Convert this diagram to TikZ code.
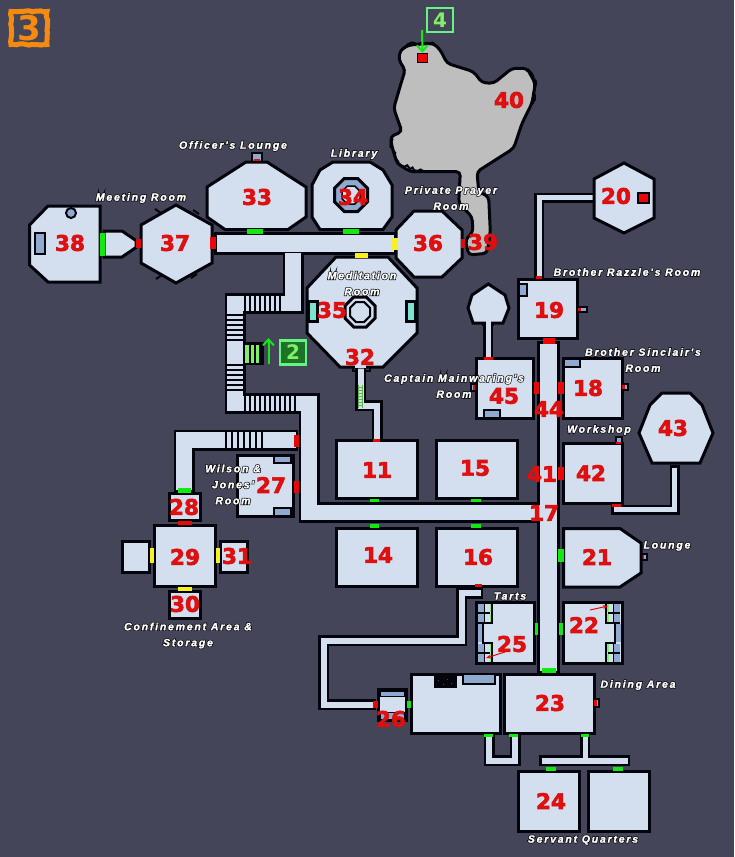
\documentclass[tikz,border=0pt]{standalone}
\usepackage{fontspec}
\usetikzlibrary{arrows.meta,decorations.pathmorphing}
\newfontfamily\numfont[BoldFont={DejaVu Sans Bold}]{DejaVu Sans}
\newfontfamily\labfont[LetterSpace=17,ItalicFont={Liberation Sans Italic},BoldFont={Liberation Sans Bold},BoldItalicFont={Liberation Sans Bold Italic}]{Liberation Sans}
\definecolor{bgc}{HTML}{454559}
\definecolor{ink}{HTML}{04040C}
\definecolor{roomc}{HTML}{D3DFEE}
\definecolor{steel}{HTML}{8FA9CF}
\definecolor{gdoor}{HTML}{12E812}
\definecolor{rdoor}{HTML}{E80808}
\definecolor{ydoor}{HTML}{F8F020}
\definecolor{cave}{HTML}{BEBEBE}
\definecolor{teal}{HTML}{80E0D0}
\definecolor{lgreen}{HTML}{80F068}
\definecolor{orng}{HTML}{F58A10}
\definecolor{numred}{HTML}{E01010}
\newif\ifinnerpass
\newcommand\Path[3]{\ifinnerpass\draw[corrin,line width=#2pt,shorten <=2.5pt,shorten >=2.5pt] #3;\else\draw[corrout,line width=#1pt] #3;\fi}
\newcommand\Corridors{%
 \Path{23}{17.5}{(214,243.5)--(396,243.5)}
 \Path{21}{15.5}{(293,250)--(293,303.5)--(235,303.5)--(235,403.5)--(309,403.5)--(309,512.5)--(548,512.5)}
 \Path{23}{17.5}{(548.5,341)--(548.5,673)}
 \Path{21}{15.5}{(298,440)--(184,440)--(184,492)}
 \Path{10}{5}{(596,197.5)--(539,197.5)--(539,281)}
 \Path{10}{5}{(674.5,465)--(674.5,509.5)--(611,509.5)}
 \Path{10}{5}{(488,320)--(488,360)}
 \Path{11}{6}{(360.5,360)--(360.5,405.5)--(377,405.5)--(377,443)}
 \Path{11}{6}{(483,593)--(461.5,593)--(461.5,640.5)--(323.5,640.5)--(323.5,704.5)--(376,704.5)}
 \Path{11}{6}{(489,731)--(489,760.5)--(515,760.5)--(515,731)}
 \Path{10}{5}{(585,733)--(585,760.5)}
 \Path{11}{6}{(539,760.5)--(630,760.5)}
}
\newcommand\Door[5]{\fill[#5] (#1,#2) rectangle (#3,#4);}
\newcommand\Octa[3]{({#1-#3},{#2-.41*#3})--({#1-.41*#3},{#2-#3})--({#1+.41*#3},{#2-#3})--({#1+#3},{#2-.41*#3})--({#1+#3},{#2+.41*#3})--({#1+.41*#3},{#2+#3})--({#1-.41*#3},{#2+#3})--({#1-#3},{#2+.41*#3})--cycle}
\newcommand\Ticks[5]{\foreach \t in {#1,#2,...,#3} \draw[tick] (\t,#4)--(\t,#5);}
\newcommand\HTicks[5]{\foreach \t in {#1,#2,...,#3} \draw[tick] (#4,\t)--(#5,\t);}
\newcommand\Closet[5]{\draw[closet] (#1,#2) rectangle (#3,#4); \fill[rdoor] #5;}
\newcommand\lb[1]{\rlap{\special{pdf:code 1 Tr 1.5 w 0 0 0 RG}#1\special{pdf:code 0 Tr}}\special{pdf:code 2 Tr 0.2 w 1 1 1 RG}#1\special{pdf:code 0 Tr}}
\newcommand\nm[1]{\special{pdf:code 2 Tr 0.6 w 0.86 0.05 0.05 RG}#1\special{pdf:code 0 Tr}}
\newcommand\Cells{%
 \fill[roomc] (1,0)--(16,0)--(16,61)--(1,61)--cycle;
 \foreach \a/\b in {1.5/10,11.5/20,42/50,52/60}{
  \fill[steel] (2,\a) rectangle (9,\b);
  \fill[roomc] (9,\a) rectangle (14,\b);
  \fill[lgreen] (13.5,\a) rectangle (16,\b);
  \draw[ink,line width=1.6pt] (2,\b+.7)--(14,\b+.7);
  \draw[ink,line width=1pt] (8.5,\a)--(8.5,\b);
 }
 \fill[steel] (1,22) rectangle (7,40);
 \draw[ink,line width=2.2pt] (16,0)--(16,21)--(7,21)--(7,41)--(16,41)--(16,61);
}
\tikzset{
 corrout/.style={draw=ink},
 corrin/.style={draw=roomc},
 room/.style={draw=ink,fill=roomc,line width=3pt,line join=miter},
 edge only/.style={draw=ink,line width=3pt},
 tick/.style={draw=ink,line width=1.4pt},
 closet/.style={draw=ink,fill=steel,line width=2pt},
 num/.style={text=numred,inner sep=0pt,font=\numfont\bfseries\fontsize{21.5}{21.5}\selectfont},
 lab/.style={text=white,inner sep=0pt,align=center,font=\labfont\itshape\bfseries\fontsize{10.5}{16}\selectfont},
 linkbox/.style={line width=2.5pt,minimum width=26pt,minimum height=24pt,inner sep=0pt,text=lgreen,font=\numfont\bfseries\fontsize{20}{20}\selectfont},
}
\begin{document}
\begin{tikzpicture}[x=1pt,y=-1pt]
\pgfmathsetseed{7}
\useasboundingbox (0,0) rectangle (734,857);
\fill[bgc] (0,0) rectangle (734,857);

% cave 40 / 39
\draw[fill=cave,draw=ink,line width=3pt,rounded corners=4pt]
 (408.7,45)--(433.7,43.3)--(440.3,50)--(447,63.3)--(473.7,71.7)--(482,82.7)--(493.7,83.3)--(512,68.3)--(527,68.3)--(535.3,83.3)--(532,103.3)--(522,123.3)--(513.7,148.3)--(477,171.7)--(478.7,191.7)--(488.7,196.7)--(490.3,231.7)--(487,253.3)--(468.7,255)--(465.3,240)--(473,231.7)--(472,216.7)--(458.7,203.3)--(460.3,171.7)--(423.7,171.7)--(410.3,171.7)--(397,163.3)--(392,146.7)--(390.3,136.7)--(402,131.7)--(393.7,108.3)--(402,80)--(405.3,70)--(398.7,60)--(400.3,50)--cycle;
\draw[ink,line width=2pt,decorate,decoration={random steps,segment length=3pt,amplitude=1.4pt}]
 (400,52)--(408,44)--(434,43) (528,69)--(536,84)--(533,104) (391,137)--(392,148)--(398,164)--(425,172);
\node[draw=ink,fill=rdoor,line width=1.5pt,minimum width=10pt,minimum height=9pt,inner sep=0pt] (startsq) at (422.5,58) {};
\coordinate (arrow4a) at (422,30);

% corridors
\innerpassfalse\Corridors
\innerpasstrue\Corridors

% stairs
\Ticks{245}{250}{280}{294.5}{312}
\HTicks{315}{320}{340}{226}{244}
\HTicks{365}{370}{390}{226}{244}
\Ticks{245}{250}{295}{394.5}{412.5}
\Ticks{226}{232}{263}{431.5}{448.5}
% green stair stub
\draw[draw=ink,fill=lgreen,line width=2.5pt] (246,343.5)--(262.5,343.5)--(262.5,364)--(246,364);
\fill[lgreen] (245,345) rectangle (261,362.5);
\Ticks{250}{255}{260}{345}{362.5}
% ladder
\draw[lgreen!75!black,line width=.9pt] (358.5,385)--(358.5,408) (362.5,385)--(362.5,408);
\foreach \t in {387,390,...,405} \draw[lgreen!75!black,line width=.9pt] (358,\t)--(363,\t);

% rooms
\draw[room] (48,206)--(100,206)--(100,282)--(48,282)--(29.5,265)--(29.5,225)--cycle;
\draw[closet] (35,233) rectangle (45,254);
\draw[draw=ink,fill=steel,line width=2pt] (71,213) circle (5);
\draw[room] (104,231)--(122,231)--(136,240.5)--(136,247.5)--(122,257)--(104,257)--cycle;
\foreach \a/\b/\c/\d in {155/209/161/213,193/210/199/214,156/279/162/275,191/278/197/274}
 \draw[ink,line width=2pt] (\a,\b)--(\c,\d);
\draw[room] (176,205)--(212,225)--(212,263)--(176,283)--(141,263)--(141,225)--cycle;
\draw[closet] (252,153) rectangle (262,162);
\draw[room] (246,162)--(267,162)--(306,187)--(306,217)--(288,229.5)--(225,229.5)--(207,217)--(207,187)--cycle;
\fill[rdoor] (254,159) rectangle (260,161);
\draw[room] (333,162)--(370,162)--(383,170)--(392,185)--(392,217)--(383,229.5)--(320,229.5)--(312,217)--(312,185)--(320,170)--cycle;
\draw[ink,fill=steel,line width=3pt] \Octa{351}{195}{16.5};
\draw[ink,fill=roomc,line width=1.5pt] \Octa{351}{195}{9};
\draw[room] (414,211)--(442,211)--(462,230)--(462,258)--(442,277)--(414,277)--(396,258)--(396,230)--cycle;
\draw[room] (336,257)--(388,257)--(417,288)--(417,333)--(383,367)--(340,367)--(307,333)--(307,288)--cycle;
\draw[draw=ink,fill=teal,line width=3pt] (308,301.5) rectangle (317,321);
\draw[draw=ink,fill=teal,line width=3pt] (406,301.5) rectangle (415.5,321);
\draw[ink,line width=3pt] \Octa{360}{312}{15};
\draw[ink,line width=2pt] \Octa{360}{312}{10};
\fill[roomc] (355,364) rectangle (366,368);
\draw[ink,line width=2.5pt] (353,367)--(353,371)--(355,371) (370,367)--(370,371)--(366,371);
% 20
\draw[room] (624,163)--(654,179)--(654,218)--(624,233)--(594,218)--(594,179)--cycle;
\draw[draw=ink,fill=rdoor,line width=2pt] (637.5,193) rectangle (648.5,203);
% 19
\draw[room] (518.5,279)--(577.5,279)--(577.5,338)--(518.5,338)--cycle;
\draw[closet] (519,284) rectangle (526.5,296);
\Closet{578}{306.5}{587}{312}{(578,307.5) rectangle (581,311)}
% dome and 45
\draw[room] (488.3,284)--(505,295)--(509,308)--(503,323)--(473,323)--(468,308)--(472,295)--cycle;
\fill[roomc] (485.5,320) rectangle (490.5,326);
\draw[ink,line width=2.5pt] (483,323)--(483,326) (493,323)--(493,326);
\Closet{471}{384}{476}{391}{(473,385) rectangle (476,390)}
\draw[room] (476.5,358.5) rectangle (533,418);
\draw[closet] (484,410) rectangle (500,418);
% 18
\draw[room] (563.5,358.5) rectangle (622,418);
\draw[closet] (564,359) rectangle (580,367);
\Closet{622}{384}{628}{390}{(622,385) rectangle (625,389)}
% 42 & 43
\draw[closet] (616,436.5) rectangle (622,443);
\draw[room] (563.5,443.5) rectangle (622,503);
\fill[rdoor] (616,442) rectangle (621,444);
\draw[room] (662,393)--(690,393)--(702,405)--(713,433)--(700,463)--(652,463)--(639,433)--(650,405)--cycle;
% 11 14 15 16
\draw[room] (336.5,440.5) rectangle (417,498);
\draw[room] (336.5,528.5) rectangle (417,586);
\draw[room] (436.5,440.5) rectangle (517,498);
\draw[room] (436.5,528.5) rectangle (517,586);
% 27
\draw[room] (237.5,455.5) rectangle (293,516);
\draw[closet] (273.5,456) rectangle (291,463);
\draw[closet] (273.5,508) rectangle (291,515.5);
% 28-31
\draw[room] (169.5,493.5) rectangle (200,520);
\draw[room] (154.5,525.5) rectangle (215,586);
\draw[room] (122.5,541.5) rectangle (149,572);
\draw[room] (220,541.5) rectangle (247,572);
\draw[room] (169.5,591.5) rectangle (200,618);
% 21
\draw[closet] (641,553.5) rectangle (647,560);
\fill[rdoor] (641,554.5) rectangle (644,559);
\draw[room] (563.5,528.5)--(620,528.5)--(641,543)--(641,573)--(620,587)--(563.5,587)--cycle;
% 25 and 22
\fill[roomc] (476.5,602.5) rectangle (534,663);
\begin{scope}[shift={(476,602)}]\Cells\end{scope}
\draw[edge only] (476.5,602.5) rectangle (534,663);
\fill[roomc] (563.5,602.5) rectangle (622,663);
\begin{scope}[shift={(622,602)},xscale=-1]\Cells\end{scope}
\draw[edge only] (563.5,602.5) rectangle (622,663);
\draw[rdoor,line width=1pt,-{Stealth[length=5pt,width=4pt]}] (590,610)--(608,606);
\draw[rdoor,line width=1pt,-{Stealth[length=5pt,width=4pt]}] (505,652)--(486,658);
% 23 & kitchen
\draw[room] (411.5,674) rectangle (500.5,733);
\draw[room] (504.5,674) rectangle (594,733);
\fill[ink] (434,676) rectangle (457,688);
\foreach \a/\b in {438/680,443/684,447/679,451/683} \fill[bgc] (\a,\b) rectangle +(1.2,1.2);
\draw[draw=ink,fill=steel,line width=1.5pt] (463,674) rectangle (495,684);
\draw[closet] (594,699) rectangle (599,707);
\fill[rdoor] (594,700) rectangle (597,706);
% 26
\draw[room] (378.5,689.5) rectangle (406,720);
\draw[draw=ink,fill=steel,line width=1pt] (380.5,691) rectangle (404,696.5);
\draw[draw=ink,fill=steel,line width=1pt] (380.5,712) rectangle (404,719);
% 24
\draw[room] (518.5,771.5) rectangle (579,831);
\draw[room] (588.5,771.5) rectangle (649,831);

% doors
\Door{100}{233}{104.5}{256}{gdoor}
\Door{136}{239}{141}{248}{rdoor}
\Door{210}{237}{216}{249}{rdoor}
\Door{247}{229}{263}{234}{gdoor}
\Door{343}{229}{359}{234}{gdoor}
\Door{392}{238}{398}{250}{ydoor}
\Door{461}{239}{465}{248}{rdoor}
\Door{355}{253}{368}{258}{ydoor}
\Door{535.5}{276}{541.5}{279}{rdoor}
\Door{543}{338}{555}{344}{rdoor}
\Door{484}{356.5}{493}{359.5}{rdoor}
\Door{533.5}{382}{539}{394}{rdoor}
\Door{558}{382}{563.5}{394}{rdoor}
\Door{558}{467}{563.5}{480}{rdoor}
\Door{612}{503.5}{621}{506.5}{rdoor}
\Door{373}{438.5}{380}{441.5}{rdoor}
\Door{370}{498.5}{379}{502}{gdoor}
\Door{370}{523.5}{379}{528}{gdoor}
\Door{471}{498.5}{481}{502}{gdoor}
\Door{471}{523.5}{481}{528}{gdoor}
\Door{293.5}{435}{298.5}{447}{rdoor}
\Door{293.5}{481}{298.5}{493}{rdoor}
\Door{178}{488}{191}{492.5}{gdoor}
\Door{178}{520.5}{192}{524.5}{rdoor}
\Door{149.5}{548}{153.5}{563}{ydoor}
\Door{215.5}{548}{219.5}{563}{ydoor}
\Door{178}{587}{192}{590.5}{ydoor}
\Door{558}{549}{563.5}{562}{gdoor}
\Door{475}{584}{482}{587}{rdoor}
\Door{534.5}{623}{538}{635}{gdoor}
\Door{559}{623}{563}{635}{gdoor}
\Door{542}{668}{556}{673}{gdoor}
\Door{373}{701}{378}{708}{rdoor}
\Door{406.5}{701}{411}{708}{gdoor}
\Door{484}{733.5}{493}{737}{gdoor}
\Door{509}{733.5}{518}{737}{gdoor}
\Door{581}{733.5}{589}{737}{gdoor}
\Door{546}{766.5}{556}{771}{gdoor}
\Door{613}{766.5}{623}{771}{gdoor}

% map links
\node[draw=orng,fill=bgc,line width=5pt,minimum width=36pt,minimum height=33pt,inner sep=0pt,decorate,decoration={random steps,segment length=3pt,amplitude=.7pt},text=orng,font=\numfont\bfseries\fontsize{34}{34}\selectfont] (link3) at (29,28) {3};
\node[linkbox,draw=lgreen!80!cyan,fill=green!45!bgc!75!black] (link2) at (293,352.5) {2};
\node[linkbox,draw=lgreen!80!cyan,fill=bgc] (link4) at (440,20) {4};
\coordinate (arrow2a) at (268.5,364);
\coordinate (arrow2b) at (268.5,338);
\draw[gdoor,line width=2pt,-{Straight Barb[length=6pt,width=11pt]}] (arrow2a)--(arrow2b);
\draw[gdoor,line width=2pt,-{Straight Barb[length=6pt,width=11pt]}] (arrow4a)--(startsq.north);

% captions
\node[lab] (t33) at (233,146) {\lb{Officer's Lounge}};
\node[lab] (t34) at (354,154) {\lb{Library}};
\node[lab] (t37) at (141,198) {\lb{Meeting Room}};
\node[lab] (t36) at (451,198) {\lb{Private Prayer}\\\lb{Room}};
\node[lab] (t35) at (362,283.5) {\lb{Meditation}\\\lb{Room}};
\node[lab] (t19) at (627,272) {\lb{Brother Razzle's Room}};
\node[lab] (t18) at (643,360) {\lb{Brother Sinclair's}\\\lb{Room}};
\node[lab] (t45) at (454,386) {\lb{Captain Mainwaring's}\\\lb{Room}};
\node[lab] (t42) at (599,430) {\lb{Workshop}};
\node[lab] (t27) at (233,484.5) {\lb{Wilson \&}\\\lb{Jones'}\\\lb{Room}};
\node[lab] (t21) at (667,546) {\lb{Lounge}};
\node[lab] (t25) at (510,596) {\lb{Tarts}};
\node[lab] (t23) at (638,685) {\lb{Dining Area}};
\node[lab] (t24) at (583,840) {\lb{Servant Quarters}};
\node[lab] (t30) at (188,635.5) {\lb{Confinement Area \&}\\\lb{Storage}};

% numbers
\foreach \n/\x/\y in {33/257/197,34/353/197,38/70/243,37/175/243,36/428/243,39/483/242,40/509/100,20/616/196,19/549/310,35/332/310,32/360/357,45/504/396,18/588/388,44/549/409,43/673/428,11/377/470,15/475/468,41/542/474,42/591/473,27/271/485,28/184/507,17/544/513,14/378/555,16/478/557,21/597/557,29/185/557,31/237/556,30/185/604,22/584/625,25/512/644,23/550/703,26/391/719,24/551/801}
 \node[num] (n\n) at (\x,\y) {\nm{\n}};
\end{tikzpicture}
\end{document}
